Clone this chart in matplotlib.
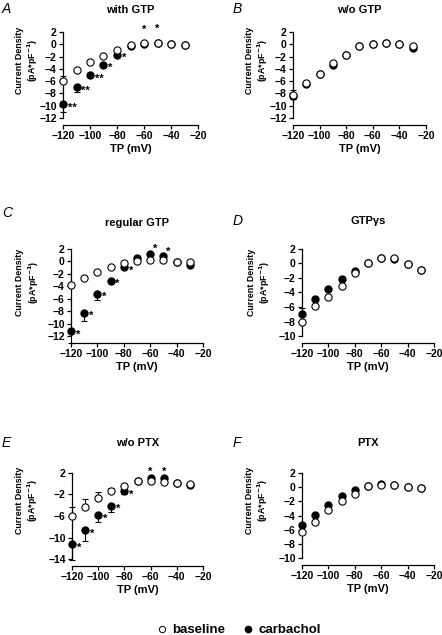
import numpy as np
import matplotlib.pyplot as plt
from matplotlib.lines import Line2D

plt.rcParams['font.family'] = ['Liberation Sans', 'DejaVu Sans']
plt.rcParams['font.weight'] = 'bold'

tp = [-120, -110, -100, -90, -80, -70, -60, -50, -40, -30]

# panel A: with GTP
a_base = [-6.0, -4.25, -2.95, -1.97, -1.0, -0.17, 0.15, 0.2, 0.1, -0.07]
a_base_err = [0.9, 0.3, 0.2, 0.15, 0.1, 0.1, 0.1, 0.1, 0.1, 0.1]
a_carb = [-9.8, -7.0, -5.0, -3.3, -1.7, -0.2, 0.1, 0.15, 0.05, -0.1]
a_carb_err = [1.2, 0.8, 0.3, 0.3, 0.2, 0.1, 0.1, 0.1, 0.1, 0.1]
a_stars = ['**', '**', '**', '*', '*', '', '*', '*', '', '']

# panel B: w/o GTP
b_base = [-8.27, -6.3, -4.8, -3.05, -1.7, -0.28, 0.1, 0.2, 0.04, -0.3]
b_base_err = [0.9, 0.3, 0.2, 0.15, 0.1, 0.1, 0.1, 0.1, 0.1, 0.1]
b_carb = [-8.4, -6.45, -4.9, -3.3, -1.75, -0.3, 0.05, 0.15, 0.0, -0.55]
b_carb_err = [0.5, 0.3, 0.2, 0.1, 0.1, 0.1, 0.1, 0.1, 0.1, 0.1]
b_stars = [''] * 10

# panel C: regular GTP
c_base = [-3.76, -2.7, -1.77, -0.85, -0.2, 0.11, 0.17, 0.17, -0.05, -0.15]
c_base_err = [0.3, 0.2, 0.2, 0.1, 0.1, 0.1, 0.1, 0.1, 0.1, 0.1]
c_carb = [-11.2, -8.23, -5.2, -3.1, -0.96, 0.55, 1.25, 0.8, -0.1, -0.6]
c_carb_err = [2.0, 1.4, 1.0, 0.4, 0.2, 0.1, 0.1, 0.1, 0.1, 0.1]
c_stars = ['*', '*', '*', '*', '*', '', '*', '*', '', '']

# panel D: GTPγs
d_base = [-8.1, -5.87, -4.67, -3.05, -1.29, 0.0, 0.75, 0.7, -0.07, -0.87]
d_base_err = [0.3, 0.2, 0.2, 0.1, 0.1, 0.1, 0.1, 0.1, 0.1, 0.1]
d_carb = [-6.9, -4.9, -3.55, -2.2, -1.1, 0.0, 0.7, 0.65, -0.1, -0.9]
d_carb_err = [0.7, 0.3, 0.2, 0.1, 0.1, 0.1, 0.1, 0.1, 0.1, 0.1]
d_stars = [''] * 10

# panel E: w/o PTX
e_base = [-6.0, -4.3, -2.57, -1.33, -0.35, 0.45, 0.45, 0.4, 0.2, -0.1]
e_base_err = [1.7, 1.4, 1.07, 0.63, 0.3, 0.2, 0.1, 0.1, 0.1, 0.1]
e_carb = [-11.27, -8.6, -5.9, -4.1, -1.33, 0.6, 1.14, 1.0, 0.1, -0.2]
e_carb_err = [2.9, 2.0, 1.2, 1.1, 0.6, 0.2, 0.2, 0.2, 0.1, 0.1]
e_stars = ['*', '*', '*', '*', '*', '', '*', '*', '', '']

# panel F: PTX
f_base = [-6.3, -4.96, -3.28, -1.97, -1.0, 0.13, 0.27, 0.27, 0.04, -0.06]
f_base_err = [0.2, 0.2, 0.1, 0.1, 0.1, 0.1, 0.1, 0.1, 0.1, 0.1]
f_carb = [-5.4, -3.98, -2.58, -1.27, -0.43, 0.1, 0.46, 0.25, 0.0, -0.1]
f_carb_err = [0.2, 0.2, 0.1, 0.1, 0.1, 0.1, 0.1, 0.1, 0.1, 0.1]
f_stars = [''] * 10

fig = plt.figure(figsize=(4.42, 6.35), dpi=100)
W, H = 442.0, 635.0

# letter, title, axes box in px (left, right, top, bottom), ylim, yticks,
# data..., star offset when above, title y px, letter (x, y) px, ylabel centre (x, y) px
panels = [
    ('A', 'with GTP', (63, 198, 32, 118), (-12, 2), np.arange(-12, 3, 2),
     a_base, a_base_err, 'up', a_carb, a_carb_err, 'down', a_stars, (0, 10),
     10, (2, 9), (26, 60)),
    ('B', 'w/o GTP', (293, 426, 32, 118), (-12, 2), np.arange(-12, 3, 2),
     b_base, b_base_err, 'up', b_carb, b_carb_err, 'down', b_stars, (0, 8),
     10, (233, 9), (256, 60)),
    ('C', 'regular GTP', (71, 203, 249, 336), (-12, 2), np.arange(-12, 3, 2),
     c_base, c_base_err, 'up', c_carb, c_carb_err, 'down', c_stars, (3.5, 3.5),
     223, (2, 213), (27, 282)),
    ('D', 'GTP\u03b3s', (302, 434, 249, 336), (-10, 2), np.arange(-10, 3, 2),
     d_base, d_base_err, 'down', d_carb, d_carb_err, 'up', d_stars, (0, 8),
     221, (233, 221), (258, 282)),
    ('E', 'w/o PTX', (72, 203, 473, 559), (-14, 2), np.arange(-14, 3, 4),
     e_base, e_base_err, 'up', e_carb, e_carb_err, 'down', e_stars, (0, 4.5),
     443, (2, 443), (26, 500)),
    ('F', 'PTX', (302, 434, 473, 558), (-10, 2), np.arange(-10, 3, 2),
     f_base, f_base_err, 'down', f_carb, f_carb_err, 'up', f_stars, (0, 8),
     443, (233, 443), (256, 500)),
]


def draw_err(ax, y, err, side):
    err = np.array(err)
    if side == 'up':
        yerr = [np.zeros_like(err), err]
    else:
        yerr = [err, np.zeros_like(err)]
    ax.errorbar(tp, y, yerr=yerr, fmt='none', ecolor='black', elinewidth=0.8,
                capsize=2.2, capthick=0.8, clip_on=False, zorder=1)


for (letter, title, box, ylim, yticks, base, berr, bside, carb, cerr, cside,
     stars, above, ty, lxy, labxy) in panels:
    x0, x1, yt, yb = box
    ax = fig.add_axes([x0 / W, 1 - yb / H, (x1 - x0) / W, (yb - yt) / H])
    draw_err(ax, carb, cerr, cside)
    draw_err(ax, base, berr, bside)
    ax.plot(tp, carb, 'o', color='black', markersize=5, clip_on=False, zorder=3)
    ax.plot(tp, base, 'o', markerfacecolor='white', markeredgecolor='black',
            markeredgewidth=0.8, markersize=5.2, clip_on=False, zorder=4)
    for x, vb, vc, s in zip(tp, base, carb, stars):
        if not s:
            continue
        if vc < vb - 0.3:
            ax.annotate(s, (x, vc), xytext=(3.5, -2.5), textcoords='offset points',
                        ha='left', va='center', fontsize=8, fontweight='bold')
        else:
            ax.annotate(s, (x, max(vc, vb)), xytext=above, textcoords='offset points',
                        ha='center', va='center', fontsize=8, fontweight='bold')
    ax.set_xlim(-120, -20)
    ax.set_ylim(*ylim)
    ax.set_xticks(range(-120, -19, 20))
    ax.set_yticks(yticks)
    for sp in ['top', 'right']:
        ax.spines[sp].set_visible(False)
    ax.spines['bottom'].set_position(('outward', 5))
    ax.spines['left'].set_linewidth(0.9)
    ax.spines['bottom'].set_linewidth(0.9)
    ax.tick_params(direction='out', length=3, width=0.9, labelsize=7.5, pad=1.5)
    for lbl in ax.get_xticklabels() + ax.get_yticklabels():
        lbl.set_fontweight('bold')
    ax.set_xlabel('TP (mV)', fontsize=8, fontweight='bold', labelpad=2)

    # two-line y label, placed by pixel centre
    cx, cy = labxy
    fig.text((cx - 7) / W, 1 - cy / H, 'Current Density', rotation=90,
             fontsize=6.4, fontweight='bold', ha='center', va='center')
    fig.text((cx + 7) / W, 1 - cy / H, '(pA*pF$^{\\mathbf{-1}}$)', rotation=90,
             fontsize=6.4, fontweight='bold', ha='center', va='center')

    fig.text((x0 + x1) / 2 / W, 1 - ty / H, title, fontsize=8, fontweight='bold',
             ha='center', va='center')
    fig.text(lxy[0] / W, 1 - lxy[1] / H, letter, fontsize=10, fontstyle='italic',
             fontweight='normal', ha='left', va='center')

handles = [
    Line2D([], [], marker='o', linestyle='none', markerfacecolor='white',
           markeredgecolor='black', markersize=4.5, markeredgewidth=0.7),
    Line2D([], [], marker='o', linestyle='none', color='black', markersize=4.5),
]
fig.legend(handles, ['baseline', 'carbachol'], loc='center', ncol=2,
           bbox_to_anchor=(238 / W, 1 - 630 / H), frameon=False,
           prop={'size': 9.5, 'weight': 'bold'}, handlelength=1.0,
           handletextpad=0.3, columnspacing=1.2)

fig.savefig('out.png', dpi=100)
